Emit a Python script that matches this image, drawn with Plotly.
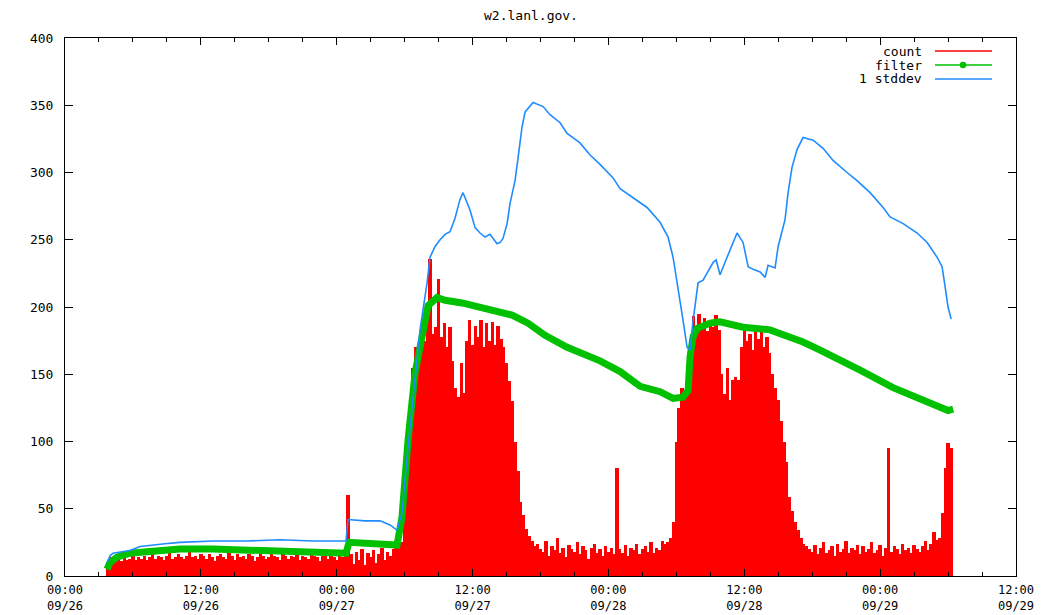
import plotly.graph_objects as go

# ---------------- data (hours since 09/26 00:00) ----------------
x_tick_hours = [0, 12, 24, 36, 48, 60, 72, 84]
x_tick_labels = ["00:00<br>09/26", "12:00<br>09/26", "00:00<br>09/27", "12:00<br>09/27",
                 "00:00<br>09/28", "12:00<br>09/28", "00:00<br>09/29", "12:00<br>09/29"]
y_tick_values = [0, 50, 100, 150, 200, 250, 300, 350, 400]

count_step = 0.25  # 15-minute samples

count_seg1_start = 3.75
count_seg1 = [8, 14, 10, 12, 13, 11, 14, 12, 13, 15, 12, 14, 13, 15, 12, 14, 16, 13, 15, 14,
              12, 15, 17, 13, 14, 16, 14, 13, 15, 18, 14, 15, 13, 16]
count_seg2_start = 12.25
count_seg2 = [15, 13, 16, 14, 11, 15, 16, 14, 13, 17, 15, 12, 16, 14, 15, 13, 16, 15, 11, 14,
              16, 15, 13, 14, 17, 15, 14, 12, 16, 15, 13, 15, 14, 16, 12, 15, 14, 13, 16, 15,
              14, 11, 15, 16, 13, 15, 14, 12, 16, 14, 15]
count_seg3_start = 25.0
count_seg3 = [60, 16, 9, 18, 12, 20, 8, 17, 14, 19, 10, 16, 21, 12, 18, 15, 20, 22, 24]
count_seg4_start = 29.75
count_seg4 = [25, 60, 95, 125, 155, 170, 160, 185, 175, 195, 236, 180, 185, 221, 178, 188, 170, 185, 160, 140,
              133, 158, 136, 175, 190, 172, 186, 178, 190, 170, 188, 175, 189, 172, 186, 176, 170, 158, 145, 130,
              100, 78, 55, 45, 35, 30, 26, 22]
count_seg5_start = 41.75
count_seg5 = [24, 20, 18, 26, 15, 22, 19, 28, 17, 21, 14, 23, 20, 18, 25, 16, 22, 19, 13, 21,
              24, 17, 20, 15, 22, 18, 21, 16, 80, 20, 17, 23, 15, 21, 19, 24, 16, 20, 22, 18,
              25, 17, 21, 19, 26, 24]
count_seg6_start = 53.25
count_seg6 = [25, 28, 40, 100, 125, 140, 135, 145, 170, 193, 180, 195, 185, 192, 182, 190, 185, 194, 183, 150,
              135, 155, 131, 146, 148, 146, 170, 183, 175, 180, 168, 182, 176, 183, 170, 178, 166, 150, 140, 131,
              115, 100, 85, 59, 48, 40, 34, 28, 24, 22]
count_seg7_start = 65.75
count_seg7 = [20, 18, 23, 16, 21, 25, 17, 19, 22, 15, 24, 18, 20, 26, 17, 21, 19, 23, 16, 22,
              18, 20, 25, 17, 19, 23, 15, 21, 95, 18, 22, 20, 16, 24, 19, 21, 17, 23, 20, 18,
              22, 26, 19, 24, 33, 27, 28, 47, 80, 99, 95]

filter_hours = [3.71, 3.98, 4.59, 5.74, 7.24, 10.16, 13.07, 18.99, 24.82, 25.09, 28.98, 29.33,
                29.77, 30.30, 30.92, 31.54, 32.07, 32.86, 33.57, 35.07, 36.48, 37.99, 39.49, 40.90,
                42.40, 44.35, 47.26, 49.03, 50.80, 52.56, 53.71, 54.59, 55.04, 55.21, 55.48, 55.83,
                56.98, 57.86, 59.89, 62.28, 63.78, 65.19, 66.70, 68.46, 70.23, 73.14, 76.15, 78.00, 78.45]
filter_values = [5, 10, 14, 17, 18, 20, 20, 19, 17, 25, 24, 23,
                 44, 101, 151, 181, 201, 207, 205, 203, 200, 198, 194, 188,
                 179, 170, 160, 152, 141, 137, 132, 133, 138, 163, 178, 184,
                 188, 189, 185, 183, 179, 174, 168, 161, 153, 140, 129, 123, 124]

std_hours = [3.71, 3.98, 4.24, 4.86, 5.74, 6.63, 7.51, 8.83, 10.16, 13.07, 16.08, 18.99, 21.91, 24.82,
             25.00, 26.50, 27.83, 28.71, 29.33, 29.77, 30.30, 30.74, 31.36, 31.98, 32.24, 32.69, 33.13,
             33.57, 34.01, 34.45, 34.89, 35.16, 35.42, 35.78, 36.22, 36.66, 37.10, 37.54, 38.16, 38.43,
             38.69, 39.05, 39.31, 39.75, 40.02, 40.37, 40.64, 41.34, 42.23, 42.84, 43.73, 44.35, 45.49,
             46.38, 47.26, 48.41, 49.03, 50.18, 51.41, 52.56, 53.27, 53.71, 54.15, 54.59, 54.95, 55.21,
             55.48, 55.92, 56.36, 56.80, 57.24, 57.51, 57.86, 58.48, 58.92, 59.36, 59.89, 60.34, 60.78,
             61.40, 61.84, 62.10, 62.72, 62.99, 63.60, 63.87, 64.22, 64.66, 65.19, 66.08, 66.96, 67.84,
             69.08, 69.96, 71.11, 72.26, 72.88, 74.03, 75.27, 76.15, 77.03, 77.47, 77.74, 78.00, 78.27]
std_values = [10, 15, 17, 18, 19, 22, 23, 24, 25, 26, 26, 27, 26, 26,
              42, 41, 41, 38, 34, 47, 96, 131, 183, 218, 237, 245, 250,
              254, 256, 266, 280, 285, 280, 272, 259, 255, 252, 254, 247, 248,
              251, 262, 277, 294, 311, 334, 345, 352, 349, 343, 337, 329, 322,
              313, 306, 296, 288, 281, 274, 263, 252, 237, 215, 190, 170, 168,
              190, 218, 220, 226, 233, 235, 224, 237, 246, 255, 248, 230, 228,
              226, 222, 231, 229, 245, 265, 285, 304, 317, 326, 324, 318, 309,
              300, 294, 285, 274, 267, 262, 255, 248, 237, 230, 215, 200, 191]

legend_labels = ["count", "filter", "1 stddev"]
title_text = "w2.lanl.gov."

# ---------------- build ----------------
count_x, count_y = [], []
for start, seg in [(count_seg1_start, count_seg1), (count_seg2_start, count_seg2),
                   (count_seg3_start, count_seg3), (count_seg4_start, count_seg4),
                   (count_seg5_start, count_seg5), (count_seg6_start, count_seg6),
                   (count_seg7_start, count_seg7)]:
    for i, v in enumerate(seg):
        count_x.append(start + i * count_step)
        count_y.append(v)

RED = "#ff0000"
GREEN = "#00c000"
BLUE = "#1e8cff"
FONT = "DejaVu Sans Mono"

W, H = 1046, 615
L, R, T, B = 65, 30, 38, 39
pw, ph = W - L - R, H - T - B

fig = go.Figure()
fig.add_trace(go.Bar(x=count_x, y=count_y, width=count_step * 1.2,
                     marker=dict(color=RED, line=dict(width=0)),
                     name=legend_labels[0], showlegend=False))
fig.add_trace(go.Scatter(x=filter_hours, y=filter_values, mode="lines",
                         line=dict(color=GREEN, width=7),
                         name=legend_labels[1], showlegend=False))
fig.add_trace(go.Scatter(x=std_hours, y=std_values, mode="lines",
                         line=dict(color=BLUE, width=1.6),
                         name=legend_labels[2], showlegend=False))

def px_x(p):
    return (p - L) / pw

def px_y(p):
    return (H - B - p) / ph

# manual gnuplot-style legend (text left of sample)
rows = [51, 65, 79]
colors = [RED, GREEN, BLUE]
annotations = []
shapes = []
for lab, ry, col in zip(legend_labels, rows, colors):
    annotations.append(dict(text=lab, xref="paper", yref="paper", x=px_x(924), y=px_y(ry),
                            xanchor="right", yanchor="middle", showarrow=False,
                            font=dict(family=FONT, size=13, color="black")))
    shapes.append(dict(type="line", xref="paper", yref="paper",
                       x0=px_x(935), x1=px_x(992), y0=px_y(ry), y1=px_y(ry),
                       line=dict(color=col, width=1.5)))
shapes.append(dict(type="circle", xref="paper", yref="paper", xsizemode="pixel", ysizemode="pixel",
                   xanchor=px_x(963), yanchor=px_y(rows[1]), x0=-2.5, x1=2.5, y0=-2.5, y1=2.5,
                   line=dict(color=GREEN, width=1.5), fillcolor=GREEN))

fig.update_layout(
    width=W, height=H,
    margin=dict(l=L, r=R, t=T, b=B, autoexpand=False),
    paper_bgcolor="white", plot_bgcolor="white",
    bargap=0,
    showlegend=False,
    font=dict(family=FONT, size=13, color="black"),
    title=dict(text=title_text, x=px_x(531), xref="paper", xanchor="center",
               y=1 - 15 / H, yref="container", yanchor="middle",
               font=dict(family=FONT, size=13, color="black")),
    annotations=annotations,
    shapes=shapes,
)
fig.update_xaxes(range=[0, 84], tickvals=x_tick_hours, ticktext=x_tick_labels,
                 showline=True, linecolor="black", linewidth=1, mirror="allticks",
                 ticks="inside", ticklen=7, tickcolor="black", showgrid=False, zeroline=False,
                 automargin=False, ticklabelstandoff=3, tickfont=dict(family=FONT, size=12),
                 minor=dict(dtick=3, tick0=0, ticks="inside", ticklen=4, tickcolor="black", showgrid=False))
fig.update_yaxes(range=[0, 400], tickvals=y_tick_values,
                 showline=True, linecolor="black", linewidth=1, mirror="allticks",
                 ticks="inside", ticklen=8, tickcolor="black", showgrid=False, zeroline=False,
                 automargin=False, ticklabelstandoff=8)

fig.write_html("out.html")
